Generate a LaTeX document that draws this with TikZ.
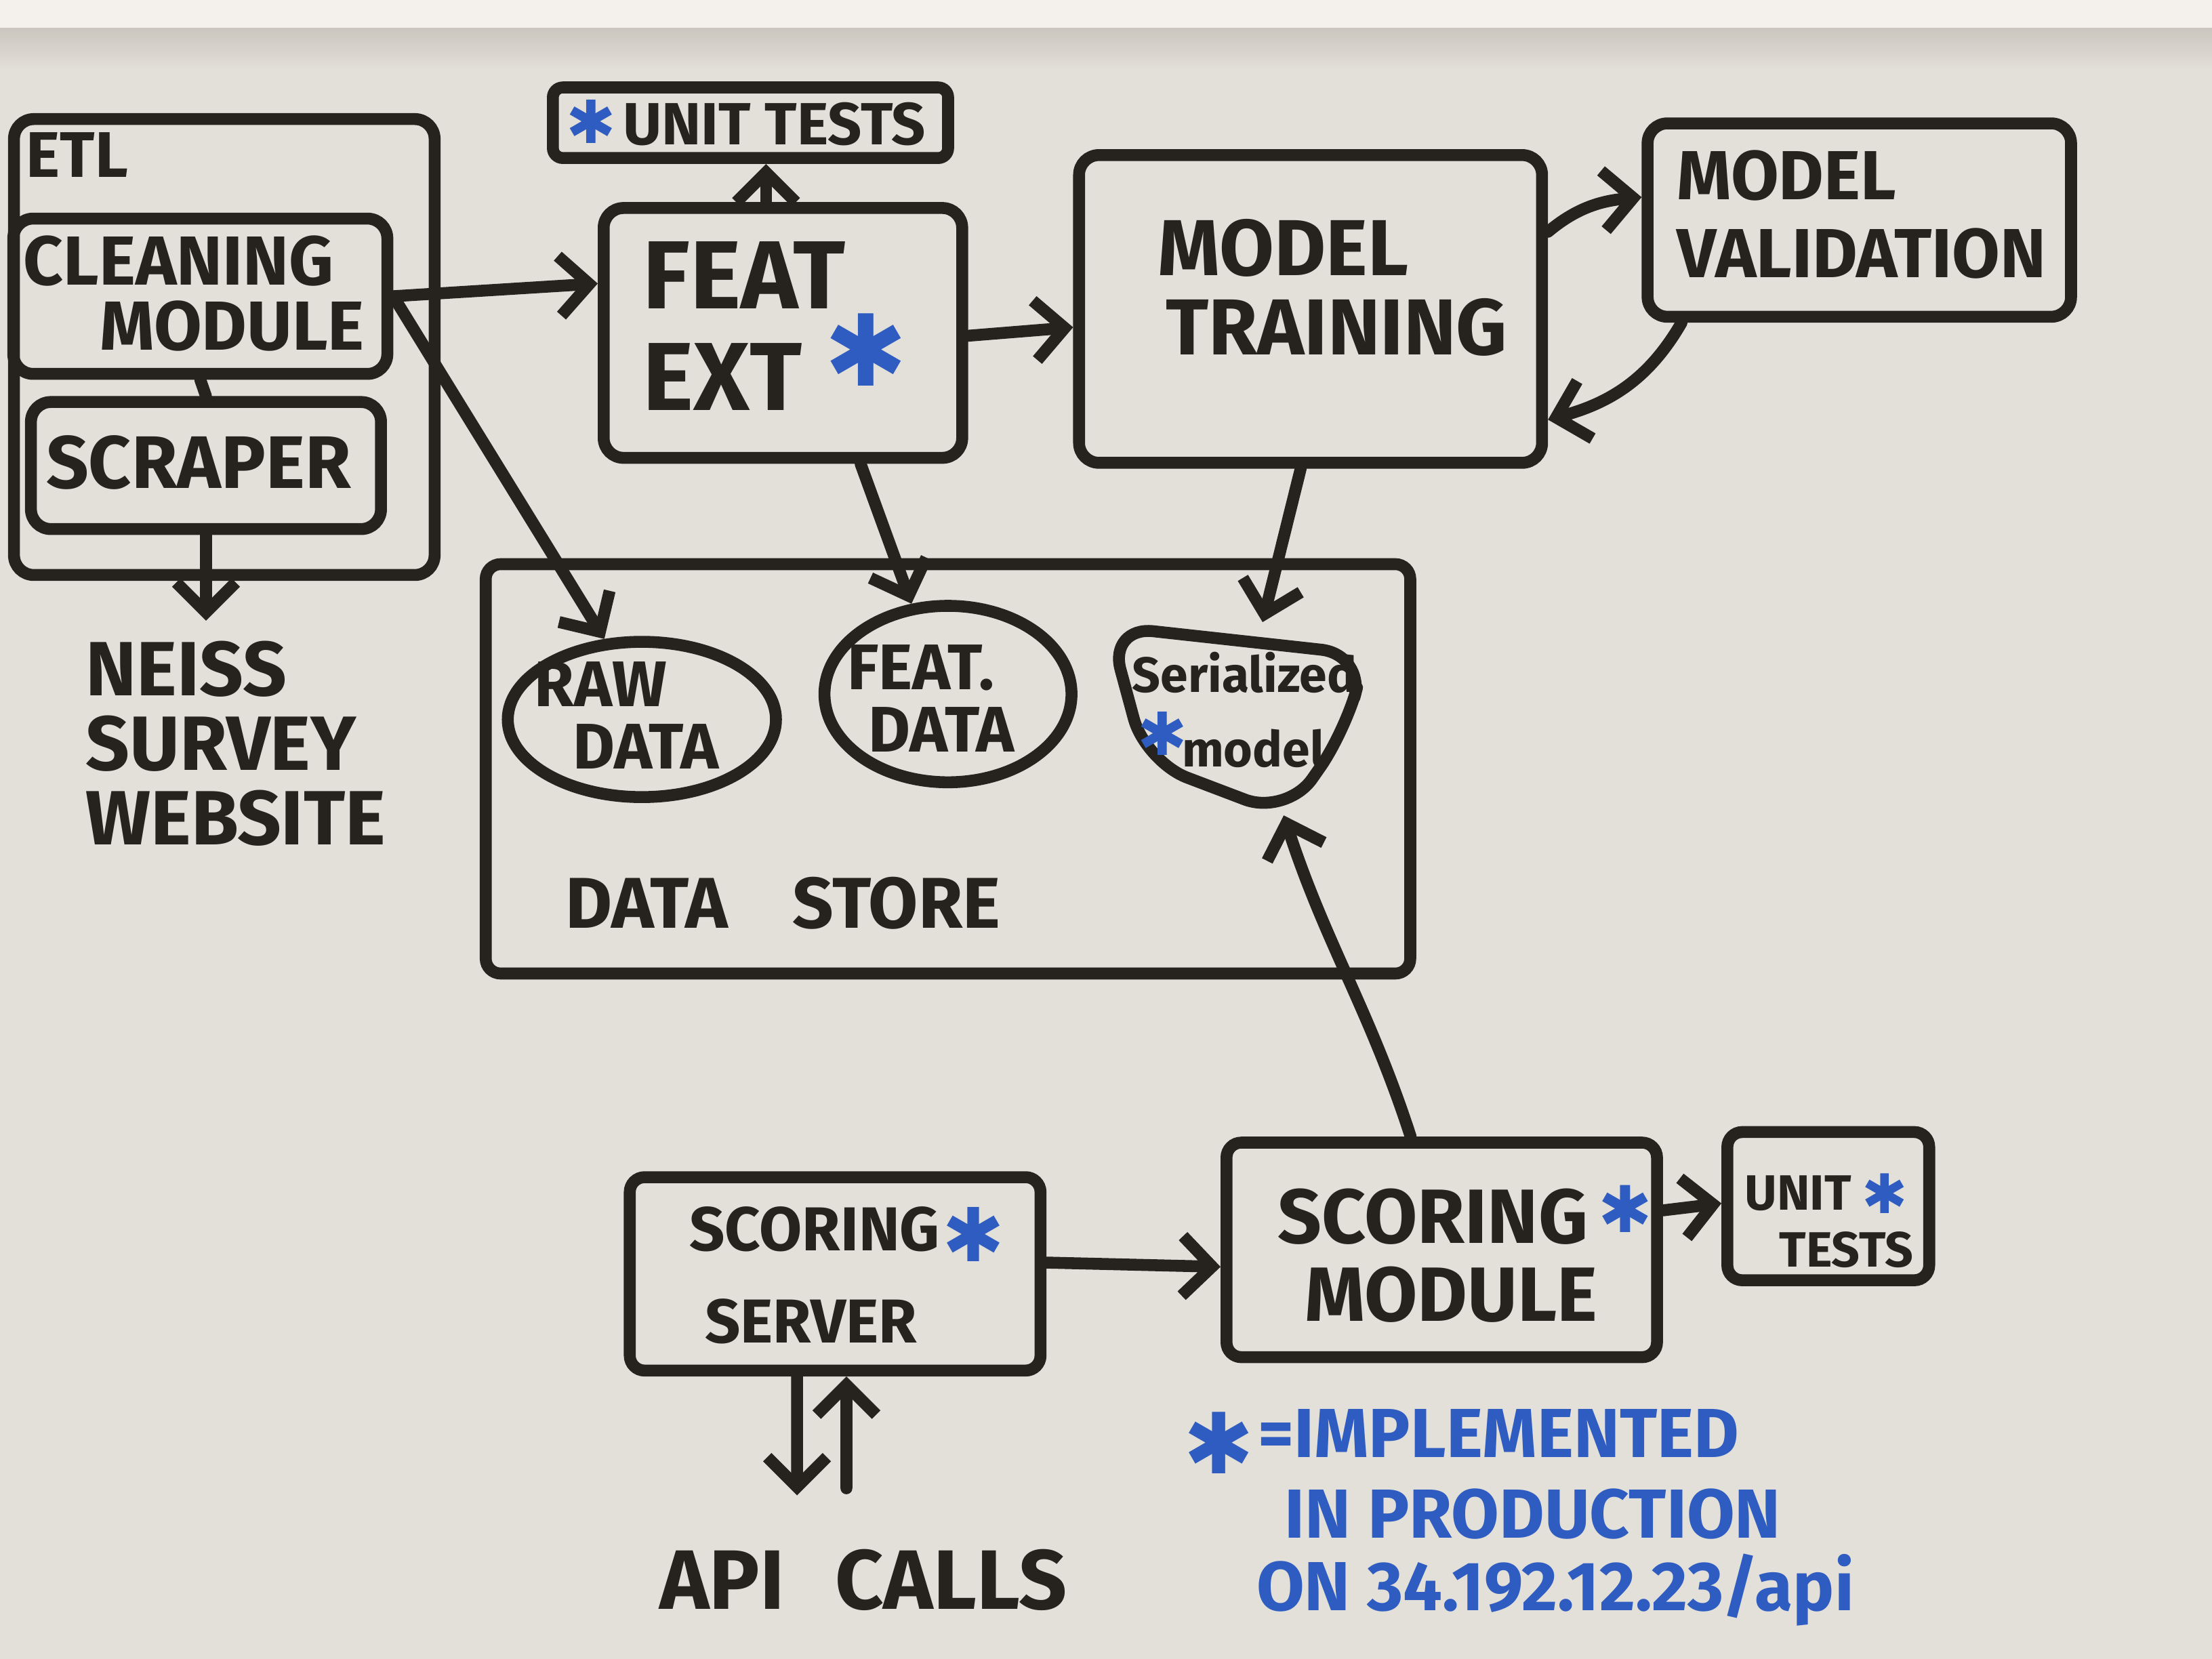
\documentclass[tikz,border=0pt]{standalone}
\usepackage{fontspec}
\setmainfont{Fira Sans}
\newfontfamily\symfont{DejaVu Sans}
\usetikzlibrary{arrows.meta,shapes.geometric}
\definecolor{ink}{HTML}{26231F}
\definecolor{blueink}{HTML}{2F5CC0}
\definecolor{board}{HTML}{E3E0D9}
\definecolor{frame}{HTML}{F4F1EC}
\definecolor{band}{HTML}{CBC6BE}
\newcommand{\fs}[2]{\bfseries\fontsize{#1}{#2}\selectfont}
\begin{document}
\begin{tikzpicture}[x=0.01cm,y=-0.01cm,
  box/.style={draw=ink,line width=2.4pt,rounded corners=4pt,inner sep=0pt},
  txt/.style={text=ink,align=left,inner sep=0pt,anchor=west},
  conn/.style={draw=ink,line width=2.4pt,line cap=round,-{Straight Barb[length=6pt,width=12pt,line width=2.4pt]}},
  plain/.style={draw=ink,line width=2.4pt,line cap=round},
  star/.style={text=blueink,inner sep=0pt},
  legend/.style={text=blueink,font=\fs{14}{16},align=left,inner sep=0pt,anchor=west}
]
% background
\fill[board] (0,0) rectangle (1568,1176);
\fill[frame] (0,0) rectangle (1568,20);
\shade[top color=band,bottom color=board] (0,20) rectangle (1568,50);
\useasboundingbox (0,0) rectangle (1568,1176);

% ETL group
\node[box,minimum width=2.98cm,minimum height=3.23cm] (etl) at (159,246) {};
\node[txt,font=\fs{13}{15}] (etllbl) at (18,110) {ETL};
\node[box,minimum width=2.65cm,minimum height=1.10cm] (cm) at (142,210) {};
\node[txt,font=\fs{14}{13.2}] (cmtxt) at (16,208) {CLEANING\\\hspace*{1.1em}MODULE};
\node[box,minimum width=2.48cm,minimum height=0.90cm] (sc) at (146,330) {};
\node[txt,font=\fs{15}{17}] (sctxt) at (32,328) {SCRAPER};
\node[txt,font=\fs{15.5}{15}] (neiss) at (60,527) {NEISS\\SURVEY\\WEBSITE};

% unit tests top
\node[box,rounded corners=2pt,minimum width=2.80cm,minimum height=0.50cm] (ut) at (532,87) {};
\node[txt,font=\fs{12}{14}] (uttxt) at (441,88) {UNIT TESTS};
\node[star,font=\symfont\fs{12}{12}] (utstar) at (419,86) {✱};

% feat ext
\node[box,minimum width=2.54cm,minimum height=1.77cm] (fe) at (555,236) {};
\node[txt,font=\fs{19.5}{20.5}] (fetxt) at (455,231) {FEAT\\EXT};
\node[star,font=\symfont\fs{20}{20}] (festar) at (614,248) {✱};

% model training / validation
\node[box,minimum width=3.28cm,minimum height=2.18cm] (mt) at (929,219) {};
\node[txt,font=\fs{16}{16}] (mttxt) at (820,204) {MODEL\\\hspace*{0.1em}TRAINING};
\node[box,minimum width=3.00cm,minimum height=1.37cm] (mv) at (1318,156) {};
\node[txt,font=\fs{14}{15.6}] (mvtxt) at (1188,152) {MODEL\\VALIDATION};

% data store
\node[box,rounded corners=3pt,minimum width=6.55cm,minimum height=2.90cm] (ds) at (672,545) {};
\node[txt,font=\fs{14.5}{16}] (dslbl) at (400,640) {DATA\hspace{0.9em}STORE};
\node[draw=ink,line width=2.4pt,ellipse,minimum width=1.90cm,minimum height=1.10cm,inner sep=0pt] (rd) at (455,510) {};
\node[txt,font=\fs{13}{12.5}] (rdtxt) at (378,507) {RAW\\\hspace*{0.6em}DATA};
\node[draw=ink,line width=2.4pt,ellipse,minimum width=1.75cm,minimum height=1.25cm,inner sep=0pt] (fd) at (672,492) {};
\node[txt,font=\fs{13}{12.5}] (fdtxt) at (600,495) {FEAT.\\\hspace*{0.33em}DATA};
% serialized model shape
\coordinate (smtop) at (895,441);
\coordinate (smbot) at (910,578);
\draw[ink,line width=2.4pt,line join=round,rounded corners=9pt] (786,444) -- (968,464) -- (954,518) -- (912,578) -- (812,540) -- cycle;
\node[txt,font=\fs{10}{15}] (smtxt) at (802,503) {Serialized\\\hspace*{1em}model};
\node[star,font=\symfont\fs{12}{12}] (smstar) at (824,520) {✱};

% scoring
\node[box,rounded corners=3pt,minimum width=2.91cm,minimum height=1.37cm] (ss) at (592,903) {};
\node[txt,font=\fs{12.5}{18.5}] (sstxt) at (488,904) {SCORING\\\hspace*{0.25em}SERVER};
\node[star,font=\symfont\fs{15}{15}] (ssstar) at (690,875) {✱};
\node[box,rounded corners=3pt,minimum width=3.05cm,minimum height=1.52cm] (smod) at (1022,886) {};
\node[txt,font=\fs{15.5}{15.6}] (smodtxt) at (905,890) {SCORING\\\hspace*{0.35em}MODULE};
\node[star,font=\symfont\fs{13}{13}] (smodstar) at (1152,857) {✱};
\node[box,rounded corners=3pt,minimum width=1.43cm,minimum height=1.05cm] (ut2) at (1296,855) {};
\node[txt,font=\fs{10}{11.5}] (ut2txt) at (1236,866) {UNIT\\\hspace*{0.7em}TESTS};
\node[star,font=\symfont\fs{11}{11}] (ut2star) at (1336,846) {✱};

% API calls
\node[text=ink,inner sep=0pt,font=\fs{17}{20}] (api) at (612,1120) {API\hspace{0.6em}CALLS};
\coordinate (apidown) at (565,1060);
\coordinate (apiup) at (600,1055);

% legend
\node[star,font=\symfont\fs{17}{17}] (lgstar) at (864,1023) {✱};
\node[legend] (lg1) at (891,1016) {=IMPLEMENTED};
\node[legend] (lg2) at (910,1073) {IN PRODUCTION};
\node[legend] (lg3) at (890,1127) {ON 34.192.12.23/api};

% connectors
\draw[plain] (cm.south) -- (sc.north);
\draw[conn] (sc.south) -- (sc.south |- 0,440);
\draw[conn] (cm.east) -- ([yshift=0.35cm]fe.west);
\draw[conn] (cm.east) -- (rd.115);
\draw[conn] ([xshift=-0.12cm]fe.north) -- ([xshift=-0.12cm]fe.north |- ut.south);
\draw[conn] ([yshift=-0.02cm]fe.east) -- ([yshift=-0.13cm]mt.west);
\draw[conn] (mt.18) to[out=40,in=185] (mv.174);
\draw[conn] (mv.210) to[out=240,in=15] (mt.-25);
\draw[conn] ([xshift=0.55cm]fe.south) -- (fd.112);
\draw[conn] ([xshift=-0.07cm]mt.south) -- (smtop);
\draw[conn] ([xshift=-0.22cm]smod.north) to[out=108,in=-72] (smbot);
\draw[conn] ([yshift=0.08cm]ss.east) -- ([yshift=-0.12cm]smod.west);
\draw[conn] ([yshift=0.28cm]smod.east) -- ([yshift=0.02cm]ut2.west);
\draw[conn] ([xshift=-0.27cm]ss.south) -- (apidown);
\draw[conn] (apiup) -- ([xshift=0.08cm]ss.south);
\end{tikzpicture}
\end{document}
